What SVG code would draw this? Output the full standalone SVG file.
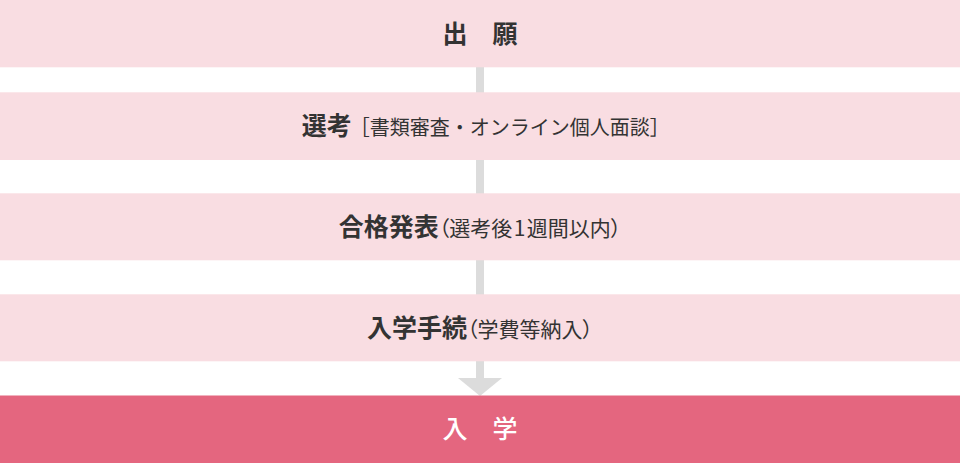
<svg xmlns="http://www.w3.org/2000/svg" width="960" height="463" viewBox="0 0 960 463">
  <defs>
    <style>
      .band { fill: #f9dde2; }
      .band-final { fill: #e4667f; }
      .title { font-family: "Noto Sans CJK JP", "Noto Sans", sans-serif; font-size: 25px; font-weight: 700; fill: #333333; }
      .sub { font-family: "Noto Sans CJK JP", "Noto Sans", sans-serif; font-size: 21px; font-weight: 400; fill: #333333; font-feature-settings: "palt"; }
      .sub-wide { font-family: "Noto Sans CJK JP", "Noto Sans", sans-serif; font-size: 20px; font-weight: 400; fill: #333333; }
      .final { font-family: "Noto Sans CJK JP", "Noto Sans", sans-serif; font-size: 25px; font-weight: 500; fill: #ffffff; }
      .conn { stroke: #dcdcdc; stroke-width: 8; fill: none; }
      .head { fill: #dcdcdc; }
    </style>
  </defs>
  <g id="connectors">
    <line class="conn" x1="480" y1="67" x2="480" y2="93"/>
    <line class="conn" x1="480" y1="160" x2="480" y2="194"/>
    <line class="conn" x1="480" y1="260" x2="480" y2="295"/>
    <line class="conn" x1="480" y1="361" x2="480" y2="378"/>
    <polygon class="head" points="458,378 502,378 480,396"/>
  </g>
  <g id="node-apply">
    <rect class="band" x="0" y="0" width="960" height="67.3"/>
    <text class="title" x="480" y="42.5" text-anchor="middle">出　願</text>
  </g>
  <g id="node-selection">
    <rect class="band" x="0" y="92.3" width="960" height="67.7"/>
    <text x="485.7" y="135" text-anchor="middle"><tspan class="title">選考</tspan><tspan class="sub-wide" dx="-2">［書類審査・オンライン個人面談］</tspan></text>
  </g>
  <g id="node-result">
    <rect class="band" x="0" y="193.3" width="960" height="67"/>
    <text x="480" y="236" text-anchor="middle"><tspan class="title">合格発表</tspan><tspan class="sub">（選考後<tspan dx="1.5">1</tspan><tspan dx="1.5">週間以内）</tspan></tspan></text>
  </g>
  <g id="node-procedure">
    <rect class="band" x="0" y="294.3" width="960" height="67"/>
    <text x="480" y="337" text-anchor="middle"><tspan class="title">入学手続</tspan><tspan class="sub">（学費等納入）</tspan></text>
  </g>
  <g id="node-enroll">
    <rect class="band-final" x="0" y="395.5" width="960" height="67.5"/>
    <text class="final" x="480" y="438" text-anchor="middle">入　学</text>
  </g>
</svg>
